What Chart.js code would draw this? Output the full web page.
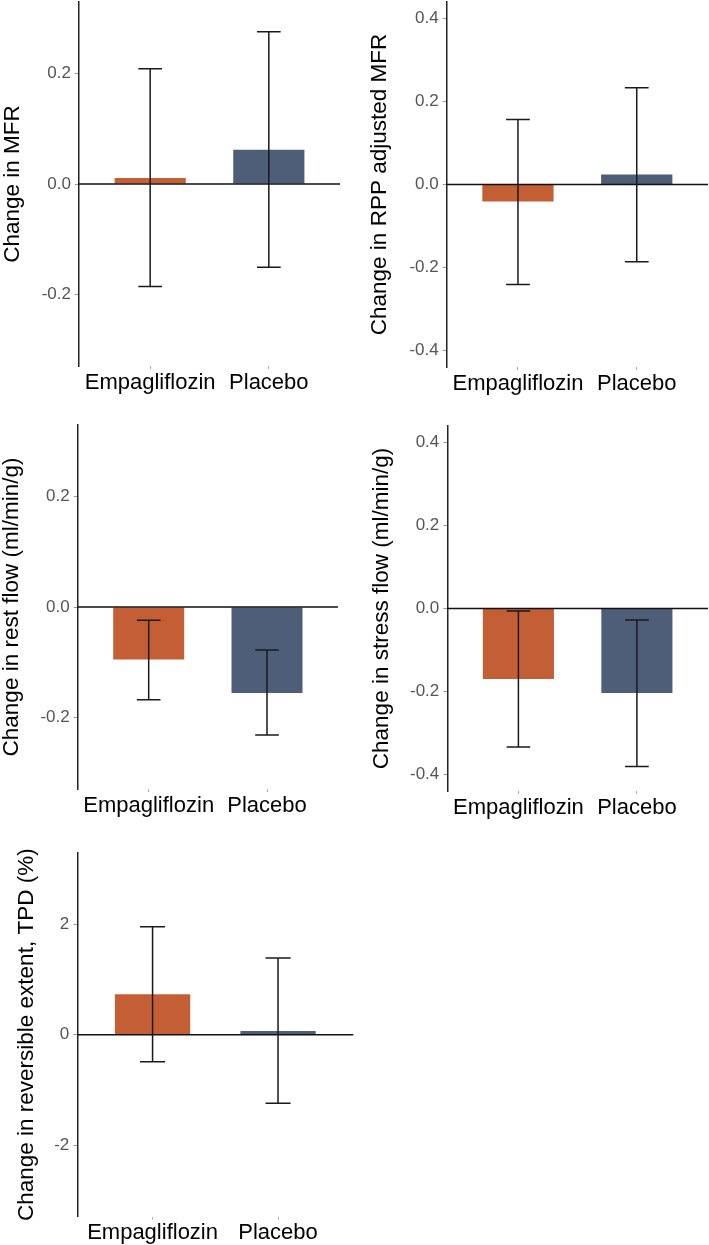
<!DOCTYPE html>
<html><head><meta charset="utf-8">
<script src="https://cdn.jsdelivr.net/npm/chart.js@4"></script>
<style>
html,body{margin:0;padding:0;background:#fff;width:709px;height:1245px;overflow:hidden;position:relative}
canvas{position:absolute;display:block}
</style></head><body>
<canvas id="c1"></canvas><canvas id="c2"></canvas><canvas id="c3"></canvas><canvas id="c4"></canvas><canvas id="c5"></canvas>
<script>
// ---- data ----
const categories = ['Empagliflozin', 'Placebo'];

const mfrValues = [0.011, 0.062];
const mfrLower  = [-0.186, -0.151];
const mfrUpper  = [0.209, 0.276];
const mfrTicks  = [-0.2, 0, 0.2];

const rppValues = [-0.041, 0.024];
const rppLower  = [-0.241, -0.186];
const rppUpper  = [0.157, 0.233];
const rppTicks  = [-0.4, -0.2, 0, 0.2, 0.4];

const restValues = [-0.095, -0.156];
const restLower  = [-0.168, -0.232];
const restUpper  = [-0.024, -0.078];
const restTicks  = [-0.2, 0, 0.2];

const stressValues = [-0.170, -0.204];
const stressLower  = [-0.334, -0.381];
const stressUpper  = [-0.006, -0.028];
const stressTicks  = [-0.4, -0.2, 0, 0.2, 0.4];

const tpdValues = [0.733, 0.067];
const tpdLower  = [-0.49, -1.244];
const tpdUpper  = [1.958, 1.39];
const tpdTicks  = [-2, 0, 2];

// ---- styles / layout ----
const barColors = ['#C45F35', '#4E5D78'];
const FONT = "'Liberation Sans', Arial, Helvetica, sans-serif";

const panels = [
  {id:'c1', left:-4, top:0, w:354, h:405, axisW:83, xAxisH:39, padTop:2, padRight:10, titlePad:5.5,
   title:'Change in MFR', values:mfrValues, lower:mfrLower, upper:mfrUpper, ticks:mfrTicks, lim:0.33, dec:1},
  {id:'c2', left:351, top:0, w:358, h:405, axisW:95.7, xAxisH:38, padTop:2, padRight:1, titlePad:18,
   title:'Change in RPP adjusted MFR', values:rppValues, lower:rppLower, upper:rppUpper, ticks:rppTicks, lim:0.44, dec:1},
  {id:'c3', left:-4, top:410, w:354, h:410, axisW:81.7, xAxisH:31, padTop:15, padRight:12, titlePad:5,
   title:'Change in rest flow (ml/min/g)', values:restValues, lower:restLower, upper:restUpper, ticks:restTicks, lim:0.33, dec:1},
  {id:'c4', left:351, top:410, w:358, h:410, axisW:96.3, xAxisH:29, padTop:16, padRight:1, titlePad:20,
   title:'Change in stress flow (ml/min/g)', values:stressValues, lower:stressLower, upper:stressUpper, ticks:stressTicks, lim:0.44, dec:1},
  {id:'c5', left:-4, top:830, w:364, h:415, axisW:81.3, xAxisH:28.3, padTop:22.7, padRight:6.7, titlePad:20,
   title:'Change in reversible extent, TPD (%)', values:tpdValues, lower:tpdLower, upper:tpdUpper, ticks:tpdTicks, lim:3.3, dec:0}
];

const overlay = {
  id: 'overlay',
  afterDatasetsDraw(chart, args, opts) {
    const {ctx, chartArea: a, scales: {x, y}} = chart;
    ctx.save();
    // zero reference line
    const y0 = y.getPixelForValue(0);
    ctx.strokeStyle = '#111';
    ctx.lineWidth = 1.5;
    ctx.beginPath();
    ctx.moveTo(a.left, y0); ctx.lineTo(a.right, y0);
    ctx.stroke();
    // error bars
    ctx.strokeStyle = '#1a1a1a';
    ctx.lineWidth = 1.5;
    opts.lower.forEach((lo, i) => {
      const hi = opts.upper[i];
      const xc = x.getPixelForValue(i + 1);
      const xl = x.getPixelForValue(i + 1 - 0.1);
      const xr = x.getPixelForValue(i + 1 + 0.1);
      const yl = y.getPixelForValue(lo);
      const yu = y.getPixelForValue(hi);
      ctx.beginPath();
      ctx.moveTo(xc, yl); ctx.lineTo(xc, yu);
      ctx.moveTo(xl, yl); ctx.lineTo(xr, yl);
      ctx.moveTo(xl, yu); ctx.lineTo(xr, yu);
      ctx.stroke();
    });
    ctx.restore();
  }
};

panels.forEach(p => {
  const cv = document.getElementById(p.id);
  cv.width = p.w; cv.height = p.h;
  cv.style.left = p.left + 'px'; cv.style.top = p.top + 'px';
  cv.style.width = p.w + 'px'; cv.style.height = p.h + 'px';
  new Chart(cv, {
    type: 'bar',
    data: {
      datasets: [{
        data: p.values.map((v, i) => ({x: i + 1, y: v})),
        backgroundColor: barColors,
        borderWidth: 0,
        barPercentage: 0.6,
        categoryPercentage: 1
      }]
    },
    options: {
      responsive: false,
      animation: false,
      devicePixelRatio: 1,
      layout: {padding: {top: p.padTop, right: p.padRight, bottom: 0, left: 0}},
      plugins: {
        legend: {display: false},
        tooltip: {enabled: false},
        overlay: {lower: p.lower, upper: p.upper}
      },
      scales: {
        x: {
          type: 'linear', min: 0.4, max: 2.6, offset: false,
          afterBuildTicks: s => { s.ticks = categories.map((c, i) => ({value: i + 1})); },
          ticks: {autoSkip: false, maxRotation: 0, minRotation: 0, padding: 2.5,
                  font: {family: FONT, size: 22, lineHeight: 1}, color: '#000',
                  callback: v => categories[Math.round(v) - 1]},
          grid: {offset: false, drawOnChartArea: false, drawTicks: true, tickLength: 3, tickColor: '#aaa', tickWidth: 1},
          border: {display: false},
          afterFit: s => { s.height = p.xAxisH; s.paddingLeft = 0; s.paddingRight = 0; }
        },
        y: {
          type: 'linear', min: -p.lim, max: p.lim,
          afterBuildTicks: s => { s.ticks = p.ticks.map(v => ({value: v})); },
          ticks: {padding: 4, font: {family: FONT, size: 17}, color: '#555',
                  callback: v => p.dec ? Number(v).toFixed(p.dec) : String(v)},
          grid: {drawOnChartArea: false, drawTicks: true, tickLength: 4, tickColor: '#999', tickWidth: 1},
          border: {display: true, color: '#222', width: 1.5},
          title: {display: true, text: p.title, color: '#000',
                  font: {family: FONT, size: 22.5, lineHeight: 1},
                  padding: {top: p.titlePad, bottom: 0}},
          afterFit: s => { s.width = p.axisW; s.paddingTop = 0; s.paddingBottom = 0; }
        }
      }
    },
    plugins: [overlay]
  });
});
</script>
</body></html>
